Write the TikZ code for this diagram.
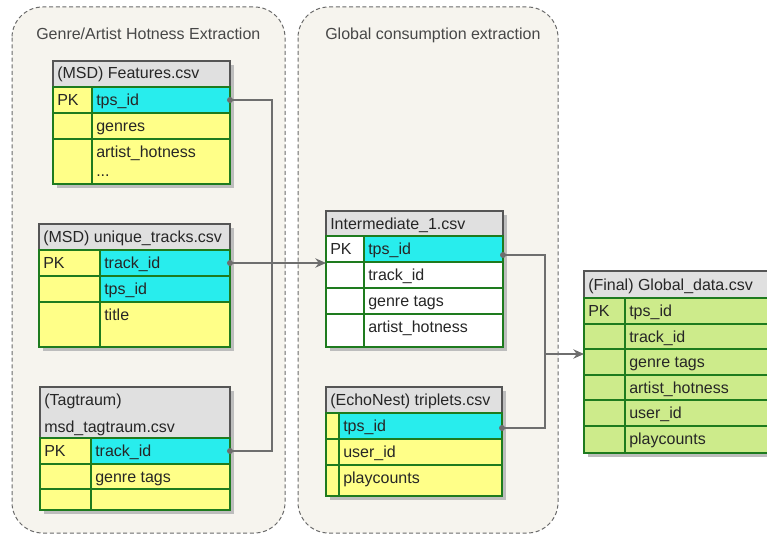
\documentclass[tikz,border=0pt]{standalone}
\usepackage{fontspec}
\setmainfont{Liberation Sans}
\usetikzlibrary{arrows.meta,calc}
\definecolor{contfill}{HTML}{F6F4EE}
\definecolor{contline}{HTML}{6A6A6A}
\definecolor{hdrfill}{HTML}{E0E0E0}
\definecolor{hdrline}{HTML}{555555}
\definecolor{tgreen}{HTML}{1E7B1E}
\definecolor{tcyan}{HTML}{28EDED}
\definecolor{tyellow}{HTML}{FFFF88}
\definecolor{tlime}{HTML}{CDEB8B}
\definecolor{txt}{HTML}{262626}
\definecolor{shad}{HTML}{BDBDBD}
\definecolor{conn}{HTML}{6E6E6E}
\newcommand\tabrow[9]{%
 \node[cellbox,fill=#7,minimum width={(#3-#2)*0.75pt},minimum height={(#6-#5)*0.75pt}] (#1k) at ({(#2+#3)/2},{(#5+#6)/2}) {};
 \node[cellbox,fill=#8,minimum width={(#4-#3)*0.75pt},minimum height={(#6-#5)*0.75pt}] (#1) at ({(#3+#4)/2},{(#5+#6)/2}) {};
 \node[celltext] at ({#3+4},{#5+18}) {#9};}
\newcommand\tabbox[6]{%
 \node[#6,minimum width={(#4-#2)*0.75pt},minimum height={(#5-#3)*0.75pt}] (#1) at ({(#2+#4)/2},{(#3+#5)/2}) {};}
\begin{document}
\begin{tikzpicture}[x=0.75pt,y=-0.75pt,font=\fontsize{12}{14}\selectfont,
  cellbox/.style={draw=tgreen,line width=0.8pt,inner sep=0pt,outer sep=0pt,rectangle},
  celltext/.style={anchor=base west,inner sep=0pt,text=txt},
  hdrbox/.style={draw=hdrline,fill=hdrfill,line width=0.9pt,inner sep=0pt,outer sep=0pt,rectangle},
  frm/.style={draw=tgreen,line width=1.3pt,inner sep=0pt,outer sep=0pt,rectangle},
  shadowbox/.style={fill=shad,draw=none,inner sep=0pt,outer sep=0pt,rectangle},
  cont/.style={draw=contline,fill=contfill,line width=0.75pt,dash pattern=on 3pt off 2pt,rounded corners=23pt},
  ttl/.style={anchor=base west,inner sep=0pt,text=txt!85},
  link/.style={draw=conn,line width=1.1pt},
  dot/.style={fill=conn},
  arr/.style={link,-{Stealth[length=8pt,width=7pt]}}]
\useasboundingbox (0,0) rectangle (767,535);
\clip (0,0) rectangle (767,535);
% containers
\draw[cont] (12,7) rectangle (285,533);
\draw[cont] (298,7) rectangle (558,533);
\node[ttl] (c1t) at (36,40) {Genre/Artist Hotness Extraction};
\node[ttl] (c2t) at (325,40) {Global consumption extraction};

% ---- Features.csv
\tabbox{fsh}{57}{65}{234}{188}{shadowbox}
\tabbox{fh}{53}{61}{230}{87}{hdrbox}
\node[celltext] at (57,79) {(MSD) Features.csv};
\tabrow{f1}{53}{92}{230}{87}{113}{tyellow}{tcyan}{tps\_id}
\tabrow{f2}{53}{92}{230}{113}{139}{tyellow}{tyellow}{genres}
\tabrow{f3}{53}{92}{230}{139}{184}{tyellow}{tyellow}{artist\_hotness}
\node[celltext] at (96,176) {...};
\node[celltext] at (57,105) {PK};
\tabbox{ff}{53}{87}{230}{184}{frm}

% ---- unique_tracks.csv
\tabbox{ush}{43}{228}{234}{351}{shadowbox}
\tabbox{uh}{39}{224}{230}{250}{hdrbox}
\node[celltext] at (43,242) {(MSD) unique\_tracks.csv};
\tabrow{u1}{39}{100}{230}{250}{276}{tyellow}{tcyan}{track\_id}
\tabrow{u2}{39}{100}{230}{276}{302}{tyellow}{tcyan}{tps\_id}
\tabrow{u3}{39}{100}{230}{302}{347}{tyellow}{tyellow}{title}
\node[celltext] at (43,268) {PK};
\tabbox{uf}{39}{250}{230}{347}{frm}

% ---- msd_tagtraum.csv
\tabbox{tsh}{44}{391}{234}{514}{shadowbox}
\tabbox{th}{40}{387}{230}{438}{hdrbox}
\node[celltext] at (44,405) {(Tagtraum)};
\node[celltext] at (44,432) {msd\_tagtraum.csv};
\tabrow{t1}{40}{91}{230}{438}{464}{tyellow}{tcyan}{track\_id}
\tabrow{t2}{40}{91}{230}{464}{489}{tyellow}{tyellow}{genre tags}
\tabrow{t3}{40}{91}{230}{489}{510}{tyellow}{tyellow}{}
\node[celltext] at (44,456) {PK};
\tabbox{tf}{40}{438}{230}{510}{frm}

% ---- Intermediate_1.csv
\tabbox{ish}{330}{215}{507}{351}{shadowbox}
\tabbox{ih}{326}{211}{503}{236}{hdrbox}
\node[celltext] at (330,229) {Intermediate\_1.csv};
\tabrow{i1}{326}{364}{503}{236}{262}{white}{tcyan}{tps\_id}
\tabrow{i2}{326}{364}{503}{262}{288}{white}{white}{track\_id}
\tabrow{i3}{326}{364}{503}{288}{314}{white}{white}{genre tags}
\tabrow{i4}{326}{364}{503}{314}{347}{white}{white}{artist\_hotness}
\node[celltext] at (330,254) {PK};
\tabbox{iff}{326}{236}{503}{347}{frm}

% ---- triplets.csv
\tabbox{rsh}{330}{391}{506}{500}{shadowbox}
\tabbox{rh}{326}{387}{502}{413}{hdrbox}
\node[celltext] at (330,405) {(EchoNest) triplets.csv};
\tabrow{r1}{326}{339}{502}{413}{439}{tyellow}{tcyan}{tps\_id}
\tabrow{r2}{326}{339}{502}{439}{465}{tyellow}{tyellow}{user\_id}
\tabrow{r3}{326}{339}{502}{465}{496}{tyellow}{tyellow}{playcounts}
\tabbox{rf}{326}{413}{502}{496}{frm}

% ---- Global_data.csv
\tabbox{gsh}{588}{275}{801}{457}{shadowbox}
\tabbox{gh}{584}{271}{797}{298}{hdrbox}
\node[celltext] at (588,290) {(Final) Global\_data.csv};
\tabrow{g1}{584}{625}{797}{298}{324}{tlime}{tlime}{tps\_id}
\tabrow{g2}{584}{625}{797}{324}{349}{tlime}{tlime}{track\_id}
\tabrow{g3}{584}{625}{797}{349}{375}{tlime}{tlime}{genre tags}
\tabrow{g4}{584}{625}{797}{375}{400}{tlime}{tlime}{artist\_hotness}
\tabrow{g5}{584}{625}{797}{400}{426}{tlime}{tlime}{user\_id}
\tabrow{g6}{584}{625}{797}{426}{453}{tlime}{tlime}{playcounts}
\node[celltext] at (588,316) {PK};
\tabbox{gf}{584}{298}{797}{453}{frm}

% ---- connectors
\draw[link] (f1.east) -- ++(42,0) |- (t1.east);
\fill[dot] (f1.east) circle (3);
\fill[dot] (t1.east) circle (3);
\draw[arr] (u1.east) -- (u1.east -| iff.west);
\fill[dot] (u1.east) circle (3);
\coordinate (ie) at ($(i1.east)+(0,6)$);
\coordinate (re) at ($(r1.east)+(0,2)$);
\coordinate (j) at (545,354);
\draw[link] (ie) -| (j);
\draw[link] (re) -| (j);
\fill[dot] (ie) circle (3);
\fill[dot] (re) circle (3);
\draw[arr] (j) -- (j -| gf.west);
\end{tikzpicture}
\end{document}
